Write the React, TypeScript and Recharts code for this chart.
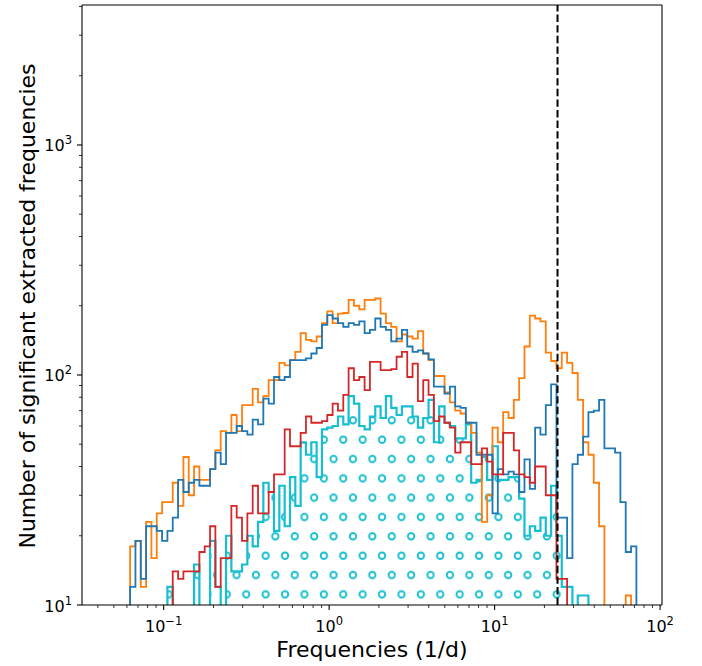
import { ComposedChart, Line, Area, XAxis, YAxis, ReferenceLine } from "recharts";

// log-spaced histogram bins (same grid for all four samples)
const BIN_MIN = 0.0627;
const BIN_MAX = 71.9;
const N_BINS = 95;

const orangeCounts = [
  18, 19, 12, 23, 16, 25, 28, 28, 34, 27, 44, 30, 40, 35, 35, 39, 47, 57, 56, 67,
  57, 74, 74, 87, 76, 81, 95, 95, 113, 110, 116, 126, 152, 142, 140, 147, 168, 189, 168, 185,
  186, 212, 200, 193, 212, 212, 215, 185, 168, 162, 140, 150, 147, 144, 155, 124, 116, 99, 99, 84,
  76, 70, 68, 62, 56, 46, 23, 30, 59, 51, 69, 65, 78, 97, 133, 181, 176, 171, 125, 115,
  107, 125, 113, 102, 78, 51, 45, 34, 22, 0, 0, 0, 0, 11, 0,
];
const blueCounts = [
  12, 19, 13, 22, 22, 21, 19, 21, 24, 35, 31, 34, 35, 33, 33, 39, 46, 41, 56, 56,
  60, 57, 55, 64, 61, 79, 75, 98, 95, 98, 116, 116, 116, 118, 124, 131, 165, 182, 176, 168,
  162, 168, 165, 171, 152, 157, 176, 162, 157, 140, 144, 157, 133, 126, 128, 124, 117, 89, 89, 83,
  89, 73, 72, 62, 62, 45, 45, 45, 25, 39, 37, 38, 37, 31, 43, 32, 59, 55, 74, 91,
  24, 24, 16, 41, 45, 54, 69, 70, 78, 48, 48, 46, 28, 17, 18,
];
const redCounts = [
  0, 0, 0, 0, 0, 0, 0, 0, 14, 13, 14, 14, 14, 17, 18, 22, 12, 16, 16, 27,
  24, 19, 25, 33, 25, 25, 31, 37, 37, 58, 49, 49, 56, 66, 62, 62, 63, 67, 75, 70,
  82, 107, 95, 98, 86, 114, 114, 105, 105, 106, 120, 126, 98, 112, 77, 95, 82, 63, 66, 62,
  59, 46, 51, 51, 41, 41, 48, 42, 37, 37, 56, 56, 47, 37, 36, 34, 40, 40, 30, 30,
  13, 13, 0, 0, 0, 0, 0, 0, 0, 0, 0, 0, 0, 0, 0,
];
const cyanCounts = [
  0, 0, 0, 0, 0, 0, 0, 12, 0, 0, 0, 0, 15, 0, 0, 19, 12, 0, 20, 14,
  14, 15, 20, 18, 23, 34, 31, 21, 33, 22, 36, 27, 51, 45, 51, 36, 58, 59, 60, 66,
  61, 81, 75, 60, 58, 66, 73, 65, 81, 72, 67, 73, 73, 66, 59, 65, 78, 51, 73, 62,
  60, 53, 53, 61, 34, 35, 44, 35, 49, 35, 35, 36, 36, 29, 20, 22, 21, 24, 20, 33,
  20, 12, 12, 0, 11, 11, 0, 0, 0, 0, 0, 0, 0, 0, 0,
];

const NYQUIST = 24;

const X_DOMAIN = [0.0321, 102.7];
const Y_DOMAIN = [10, 4060];

const X_TICKS = [
  0.04, 0.05, 0.06, 0.07, 0.08, 0.09, 0.1,
  0.2, 0.3, 0.4, 0.5, 0.6, 0.7, 0.8, 0.9, 1,
  2, 3, 4, 5, 6, 7, 8, 9, 10,
  20, 30, 40, 50, 60, 70, 80, 90, 100,
];
const Y_TICKS = [
  10, 20, 30, 40, 50, 60, 70, 80, 90, 100,
  200, 300, 400, 500, 600, 700, 800, 900, 1000,
  2000, 3000, 4000,
];

// empty bins can't sit on a log axis; push them below the frame
const FLOOR = 1;

const series: Record<string, number[]> = {
  orange: orangeCounts,
  blue: blueCounts,
  red: redCounts,
  cyan: cyanCounts,
};

const edges = Array.from({ length: N_BINS + 1 }, (_, i) =>
  BIN_MIN * Math.pow(BIN_MAX / BIN_MIN, i / N_BINS)
);

const pos = (v: number) => (v > 0 ? v : FLOOR);

const rows: any[] = [];
{
  const start: any = { x: edges[0] };
  Object.keys(series).forEach((k) => (start[k] = FLOOR));
  rows.push(start);
  for (let i = 0; i < N_BINS; i++) {
    const r: any = { x: edges[i] };
    Object.keys(series).forEach((k) => (r[k] = pos(series[k][i])));
    rows.push(r);
  }
  const last: any = { x: edges[N_BINS] };
  Object.keys(series).forEach((k) => (last[k] = pos(series[k][N_BINS - 1])));
  rows.push(last);
  const end: any = { x: edges[N_BINS] };
  Object.keys(series).forEach((k) => (end[k] = FLOOR));
  rows.push(end);
}

const FONT = "DejaVu Sans";
const SPINE = { stroke: "#000", strokeWidth: 1.1 };

const isMajor = (v: number) => Math.abs(Math.log10(v) - Math.round(Math.log10(v))) < 1e-6;
const expText = (v: number) => {
  const e = Math.round(Math.log10(v));
  return e < 0 ? "\u2212" + Math.abs(e) : String(e);
};

function XTick(props: any) {
  const { x, y, payload } = props;
  const v = payload.value;
  const major = isMajor(v);
  return (
    <g>
      <line x1={x} x2={x} y1={y} y2={y + (major ? 5 : 3)} stroke="#000" strokeWidth={major ? 1.1 : 0.8} />
      {major && (
        <text x={x} y={y + 27} textAnchor="middle" fontSize={16} fill="#000" fontFamily={FONT}>
          10<tspan dy={-7} fontSize={11.5}>{expText(v)}</tspan>
        </text>
      )}
    </g>
  );
}

function YTick(props: any) {
  const { x, y, payload } = props;
  const v = payload.value;
  const major = isMajor(v);
  return (
    <g>
      <line x1={x - (major ? 5 : 3)} x2={x} y1={y} y2={y} stroke="#000" strokeWidth={major ? 1.1 : 0.8} />
      {major && (
        <text x={x - 10} y={y + 6.5} textAnchor="end" fontSize={16} fill="#000" fontFamily={FONT}>
          10<tspan dy={-7} fontSize={11.5}>{expText(v)}</tspan>
        </text>
      )}
    </g>
  );
}

export default function App() {
  return (
    <div style={{ position: "absolute", left: 0, top: 0, width: 702, height: 666, fontFamily: FONT }}>
      <ComposedChart width={702} height={666} data={rows} margin={{ top: 5, right: 40, bottom: 0, left: 0 }}>
        <defs>
          <pattern id="hatchO" patternUnits="userSpaceOnUse" x={8.6} y={4.63} width={19.4} height={38.67}>
            <circle cx={4.85} cy={9.67} r={3.2} fill="none" stroke="#17becf" strokeWidth={1.9} />
            <circle cx={14.55} cy={29} r={3.2} fill="none" stroke="#17becf" strokeWidth={1.9} />
          </pattern>
        </defs>
        <XAxis
          dataKey="x"
          type="number"
          scale="log"
          domain={X_DOMAIN}
          allowDataOverflow
          ticks={X_TICKS}
          interval={0}
          tick={<XTick />}
          tickLine={false}
          tickSize={0}
          tickMargin={0}
          height={61}
          axisLine={SPINE}
        />
        <YAxis
          type="number"
          scale="log"
          domain={Y_DOMAIN}
          allowDataOverflow
          ticks={Y_TICKS}
          interval={0}
          tick={<YTick />}
          tickLine={false}
          tickSize={0}
          tickMargin={0}
          width={82}
          axisLine={SPINE}
        />
        <Line dataKey="orange" type="stepAfter" stroke="#ff7f0e" strokeWidth={1.8} dot={false} activeDot={false} isAnimationActive={false} />
        <Line dataKey="blue" type="stepAfter" stroke="#1f77b4" strokeWidth={1.8} dot={false} activeDot={false} isAnimationActive={false} />
        <Line dataKey="red" type="stepAfter" stroke="#d62728" strokeWidth={1.8} dot={false} activeDot={false} isAnimationActive={false} />
        <Area
          dataKey="cyan"
          type="stepAfter"
          stroke="#17becf"
          strokeWidth={2.2}
          fill="url(#hatchO)"
          fillOpacity={1}
          baseValue={10}
          dot={false}
          activeDot={false}
          isAnimationActive={false}
        />
        <ReferenceLine x={NYQUIST} stroke="#000" strokeWidth={2} strokeDasharray="7.4 3.2" />
        {/* top and right spines */}
        <ReferenceLine y={Y_DOMAIN[1]} stroke="#000" strokeWidth={1.1} ifOverflow="visible" />
        <ReferenceLine x={X_DOMAIN[1]} stroke="#000" strokeWidth={1.1} ifOverflow="visible" />
      </ComposedChart>
      <div
        style={{
          position: "absolute",
          left: 27.5,
          top: 306,
          transform: "translate(-50%, -50%) rotate(-90deg)",
          fontSize: 22,
          lineHeight: 1,
          whiteSpace: "nowrap",
          color: "#000",
        }}
      >
        Number of significant extracted frequencies
      </div>
      <div
        style={{
          position: "absolute",
          left: 372,
          top: 650,
          transform: "translate(-50%, -50%)",
          fontSize: 22,
          lineHeight: 1,
          whiteSpace: "nowrap",
          color: "#000",
        }}
      >
        Frequencies (1/d)
      </div>
    </div>
  );
}
